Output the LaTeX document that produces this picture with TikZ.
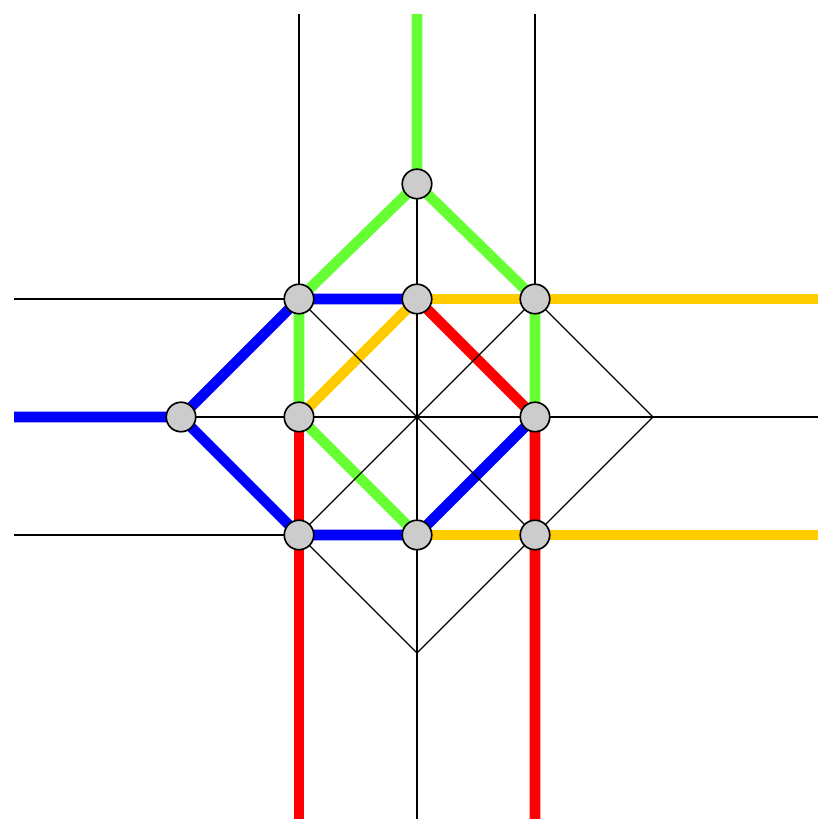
\documentclass[tikz,border=0pt]{standalone}
\pgfdeclarelayer{grid}
\pgfdeclarelayer{metro}
\pgfdeclarelayer{diag}
\pgfsetlayers{grid,metro,diag,main}
\begin{document}
\begin{tikzpicture}[x=1cm,y=1cm,
  thin line/.style={draw=black, line width=0.28pt},
  metro/.style={line width=2.55pt},
  gline/.style={metro, draw={rgb,255:red,102;green,255;blue,51}},
  bline/.style={metro, draw={rgb,255:red,0;green,0;blue,255}},
  yline/.style={metro, draw={rgb,255:red,255;green,204;blue,0}},
  rline/.style={metro, draw={rgb,255:red,255;green,0;blue,0}},
  station/.style={circle, draw=black, line width=0.4pt, fill={rgb,255:red,204;green,204;blue,204}, minimum size=0.25cm, inner sep=0pt}]
\useasboundingbox (-3.534,-3.407) rectangle (3.390,3.534);
\clip (-3.534,-3.407) rectangle (3.390,3.534);
% free ends
\coordinate (T0) at (0,3.415);
\coordinate (Tm) at (0,2.5);
\coordinate (Tl) at (-1,3.415);
\coordinate (Tr) at (1,3.415);
\coordinate (Bl) at (-1,-3.5);
\coordinate (Bm) at (0,-3.5);
\coordinate (Br) at (1,-3.5);
\coordinate (Blm) at (-1,-2);
\coordinate (Brm) at (1,-2);
\coordinate (Lt) at (-3.415,1);
\coordinate (Lm) at (-3.415,0);
\coordinate (Lb) at (-3.415,-1);
\coordinate (Rt) at (3.5,1);
\coordinate (Rm) at (3.5,0);
\coordinate (Rb) at (3.5,-1);
\coordinate (Rtm) at (2,1);
\coordinate (Rbm) at (2,-1);
\coordinate (E) at (2,0);
\coordinate (S) at (0,-2);
% stations
\node[station] (n02) at (0,1.975) {};
\node[station] (nm11) at (-1,1) {};
\node[station] (n01) at (0,1) {};
\node[station] (n11) at (1,1) {};
\node[station] (nm20) at (-2,0) {};
\node[station] (nm10) at (-1,0) {};
\node[station] (n10) at (1,0) {};
\node[station] (nm1m1) at (-1,-1) {};
\node[station] (n0m1) at (0,-1) {};
\node[station] (n1m1) at (1,-1) {};
% orthogonal grid lines
\begin{pgfonlayer}{grid}
\draw[thin line] (Tl) -- (Bl);
\draw[thin line] (Tr) -- (Br);
\draw[thin line] (n02.center) -- (Bm);
\draw[thin line] (Lt) -- (Rt);
\draw[thin line] (Lb) -- (Rb);
\draw[thin line] (nm20.center) -- (Rm);
\end{pgfonlayer}
% coloured lines
\begin{pgfonlayer}{metro}
\draw[gline] (T0) -- (Tm) -- (n02.center) -- (nm11.center) -- (nm10.center) -- (n0m1.center);
\draw[gline] (n02.center) -- (n11.center) -- (n10.center);
\draw[bline] (Lm) -- (nm20.center) -- (nm11.center) -- (n01.center);
\draw[bline] (nm20.center) -- (nm1m1.center) -- (n0m1.center) -- (n10.center);
\draw[yline] (n01.center) -- (n11.center) -- (Rtm) -- (Rt);
\draw[yline] (n01.center) -- (nm10.center);
\draw[yline] (n0m1.center) -- (n1m1.center) -- (Rbm) -- (Rb);
\draw[rline] (n01.center) -- (n10.center) -- (n1m1.center) -- (Brm) -- (Br);
\draw[rline] (nm10.center) -- (nm1m1.center) -- (Blm) -- (Bl);
\end{pgfonlayer}
% diagonals
\begin{pgfonlayer}{diag}
\draw[thin line] (nm11.center) -- (n1m1.center);
\draw[thin line] (nm1m1.center) -- (n11.center);
\draw[thin line] (n11.center) -- (E) -- (n1m1.center) -- (S) -- (nm1m1.center);
\end{pgfonlayer}
\end{tikzpicture}
\end{document}
